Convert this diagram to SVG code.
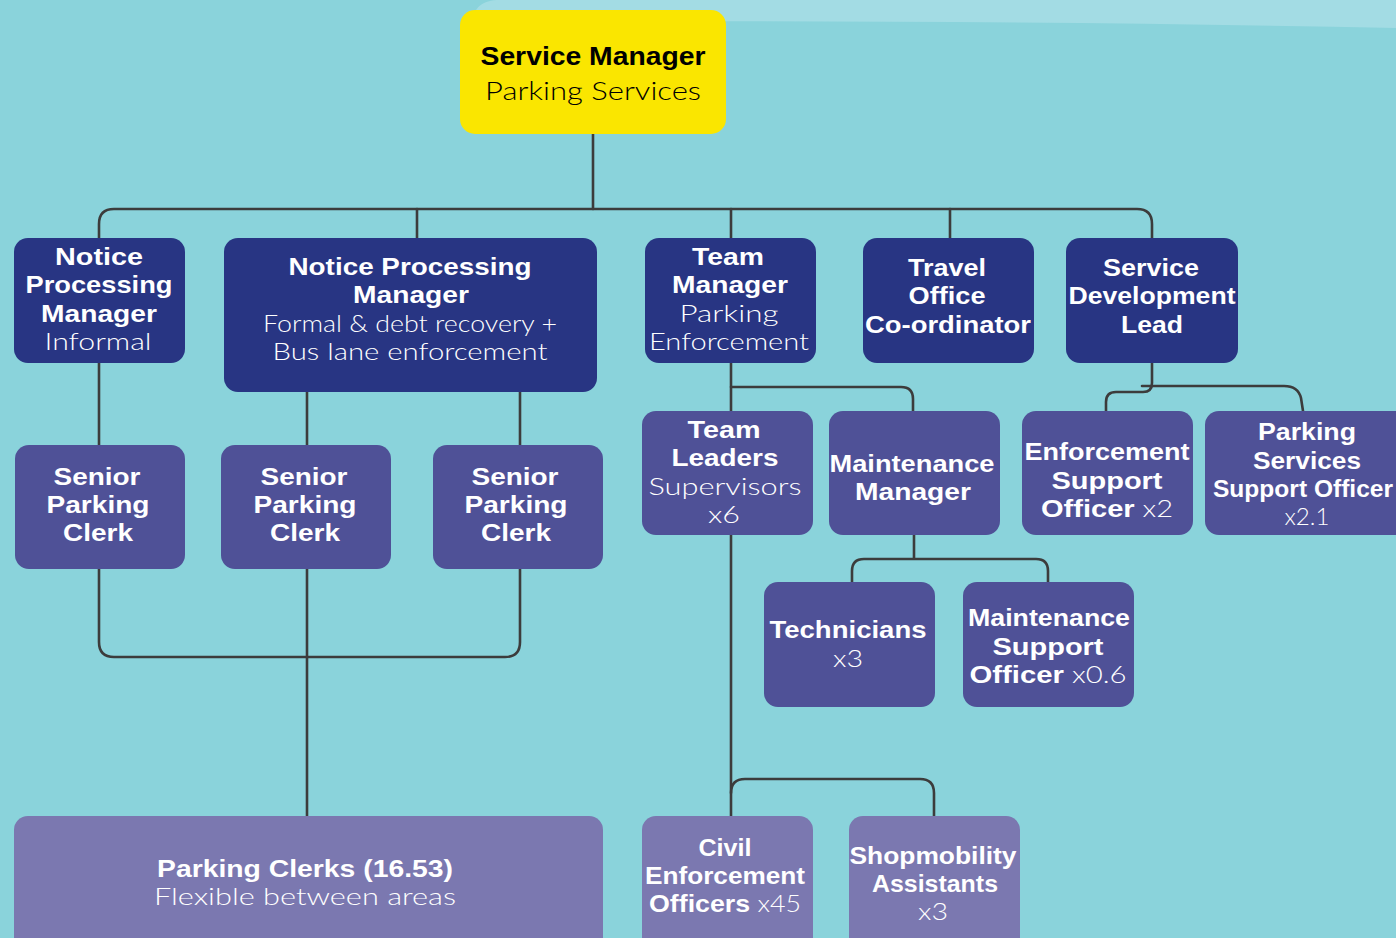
<svg xmlns="http://www.w3.org/2000/svg" width="1396" height="938" viewBox="0 0 1396 938">
<style>
.bg{fill:#8AD3DB}
.band{fill:#A3DCE4}
.n1{fill:#283583}
.n2{fill:#4F5197}
.n3{fill:#7B78B0}
.top{fill:#FAE600}
.c{fill:none;stroke:#3C3C3C;stroke-width:2.6;stroke-linecap:round;stroke-linejoin:round}
text{font-family:"Liberation Sans",Arial,sans-serif;font-size:24px;fill:#fff;text-anchor:middle}
.b{font-weight:700}
.l{font-family:Lato,"Liberation Sans",sans-serif;font-weight:300}
.k{fill:#000;font-size:26px}
</style>
<rect class="bg" x="0" y="0" width="1396" height="938"/>
<path class="band" d="M473,22 C473,8 482,0 500,0 H1396 V28 C1100,22 800,20 473,22 Z"/>
<g id="connectors">
<path class="c" d="M593,134 V209"/>
<path class="c" d="M99,238 V224 Q99,209 114,209 H1137 Q1152,209 1152,224 V238"/>
<path class="c" d="M417,209 V238 M731,209 V238 M950,209 V238"/>
<path class="c" d="M99,363 V445 M307,392 V445 M520,392 V445"/>
<path class="c" d="M99,569 V642 Q99,657 114,657 H505 Q520,657 520,642 V569"/>
<path class="c" d="M307,569 V816"/>
<path class="c" d="M731,363 V411 M731,535 V816"/>
<path class="c" d="M731,387 H901 Q913,387 913,399 V411"/>
<path class="c" d="M731,793 Q731,779 745,779 H920 Q934,779 934,793 V816"/>
<path class="c" d="M914,535 V559 M852,582 V571 Q852,559 864,559 H1036 Q1048,559 1048,571 V582"/>
<path class="c" d="M1152,363 V383 Q1152,392 1143,392 H1116 Q1106,392 1106,402 V411"/>
<path class="c" d="M1142,386 H1284 Q1298,386 1301,398 L1303,411"/>
</g>
<g id="service-manager">
<rect class="top" x="460" y="10" width="266" height="124" rx="15"/>
<text class="b k" x="593" y="65" textLength="225" lengthAdjust="spacingAndGlyphs">Service Manager</text>
<text class="l k" x="593" y="100" textLength="216" lengthAdjust="spacingAndGlyphs">Parking Services</text>
</g>
<g id="npm-informal">
<rect class="n1" x="14" y="238" width="171" height="125" rx="14"/>
<text class="b" x="99" y="265" textLength="88" lengthAdjust="spacingAndGlyphs">Notice</text>
<text class="b" x="99" y="293" textLength="147" lengthAdjust="spacingAndGlyphs">Processing</text>
<text class="b" x="99" y="322" textLength="116" lengthAdjust="spacingAndGlyphs">Manager</text>
<text class="l" x="98" y="350" textLength="107" lengthAdjust="spacingAndGlyphs">Informal</text>
</g>
<g id="npm-formal">
<rect class="n1" x="224" y="238" width="373" height="154" rx="14"/>
<text class="b" x="410" y="275" textLength="243" lengthAdjust="spacingAndGlyphs">Notice Processing</text>
<text class="b" x="411" y="303" textLength="116" lengthAdjust="spacingAndGlyphs">Manager</text>
<text class="l" x="410" y="332" textLength="294" lengthAdjust="spacingAndGlyphs">Formal &amp; debt recovery +</text>
<text class="l" x="410" y="360" textLength="275" lengthAdjust="spacingAndGlyphs">Bus lane enforcement</text>
</g>
<g id="team-manager">
<rect class="n1" x="645" y="238" width="171" height="125" rx="14"/>
<text class="b" x="728" y="265" textLength="72" lengthAdjust="spacingAndGlyphs">Team</text>
<text class="b" x="730" y="293" textLength="116" lengthAdjust="spacingAndGlyphs">Manager</text>
<text class="l" x="729" y="322" textLength="99" lengthAdjust="spacingAndGlyphs">Parking</text>
<text class="l" x="729" y="350" textLength="160" lengthAdjust="spacingAndGlyphs">Enforcement</text>
</g>
<g id="travel-office">
<rect class="n1" x="863" y="238" width="171" height="125" rx="14"/>
<text class="b" x="947" y="276" textLength="78" lengthAdjust="spacingAndGlyphs">Travel</text>
<text class="b" x="947" y="304" textLength="77" lengthAdjust="spacingAndGlyphs">Office</text>
<text class="b" x="948" y="333" textLength="166" lengthAdjust="spacingAndGlyphs">Co-ordinator</text>
</g>
<g id="service-development">
<rect class="n1" x="1066" y="238" width="172" height="125" rx="14"/>
<text class="b" x="1151" y="276" textLength="96" lengthAdjust="spacingAndGlyphs">Service</text>
<text class="b" x="1152" y="304" textLength="167" lengthAdjust="spacingAndGlyphs">Development</text>
<text class="b" x="1152" y="333" textLength="62" lengthAdjust="spacingAndGlyphs">Lead</text>
</g>
<g id="senior-clerk-1">
<rect class="n2" x="15" y="445" width="170" height="124" rx="14"/>
<text class="b" x="97" y="485" textLength="87" lengthAdjust="spacingAndGlyphs">Senior</text>
<text class="b" x="98" y="513" textLength="103" lengthAdjust="spacingAndGlyphs">Parking</text>
<text class="b" x="98" y="541" textLength="70" lengthAdjust="spacingAndGlyphs">Clerk</text>
</g>
<g id="senior-clerk-2">
<rect class="n2" x="221" y="445" width="170" height="124" rx="14"/>
<text class="b" x="304" y="485" textLength="87" lengthAdjust="spacingAndGlyphs">Senior</text>
<text class="b" x="305" y="513" textLength="103" lengthAdjust="spacingAndGlyphs">Parking</text>
<text class="b" x="305" y="541" textLength="70" lengthAdjust="spacingAndGlyphs">Clerk</text>
</g>
<g id="senior-clerk-3">
<rect class="n2" x="433" y="445" width="170" height="124" rx="14"/>
<text class="b" x="515" y="485" textLength="87" lengthAdjust="spacingAndGlyphs">Senior</text>
<text class="b" x="516" y="513" textLength="103" lengthAdjust="spacingAndGlyphs">Parking</text>
<text class="b" x="516" y="541" textLength="70" lengthAdjust="spacingAndGlyphs">Clerk</text>
</g>
<g id="team-leaders">
<rect class="n2" x="642" y="411" width="171" height="124" rx="14"/>
<text class="b" x="724" y="438" textLength="73" lengthAdjust="spacingAndGlyphs">Team</text>
<text class="b" x="725" y="466" textLength="107" lengthAdjust="spacingAndGlyphs">Leaders</text>
<text class="l" x="725" y="495" textLength="153" lengthAdjust="spacingAndGlyphs">Supervisors</text>
<text class="l" x="724" y="523" textLength="32" lengthAdjust="spacingAndGlyphs">x6</text>
</g>
<g id="maintenance-manager">
<rect class="n2" x="829" y="411" width="171" height="124" rx="14"/>
<text class="b" x="912" y="472" textLength="165" lengthAdjust="spacingAndGlyphs">Maintenance</text>
<text class="b" x="913" y="500" textLength="116" lengthAdjust="spacingAndGlyphs">Manager</text>
</g>
<g id="enforcement-support">
<rect class="n2" x="1022" y="411" width="171" height="124" rx="14"/>
<text class="b" x="1107" y="460" textLength="165" lengthAdjust="spacingAndGlyphs">Enforcement</text>
<text class="b" x="1107" y="489" textLength="111" lengthAdjust="spacingAndGlyphs">Support</text>
<text x="1107" y="517" textLength="132" lengthAdjust="spacingAndGlyphs"><tspan class="b">Officer</tspan><tspan class="l"> x2</tspan></text>
</g>
<g id="parking-services-support">
<rect class="n2" x="1205" y="411" width="210" height="124" rx="14"/>
<text class="b" x="1307" y="440" textLength="98" lengthAdjust="spacingAndGlyphs">Parking</text>
<text class="b" x="1307" y="469" textLength="108" lengthAdjust="spacingAndGlyphs">Services</text>
<text class="b" x="1303" y="497" textLength="180" lengthAdjust="spacingAndGlyphs">Support Officer</text>
<text class="l" x="1307" y="525" textLength="45" lengthAdjust="spacingAndGlyphs">x2.1</text>
</g>
<g id="technicians">
<rect class="n2" x="764" y="582" width="171" height="125" rx="14"/>
<text class="b" x="848" y="638" textLength="157" lengthAdjust="spacingAndGlyphs">Technicians</text>
<text class="l" x="848" y="667" textLength="30" lengthAdjust="spacingAndGlyphs">x3</text>
</g>
<g id="maintenance-support">
<rect class="n2" x="963" y="582" width="171" height="125" rx="14"/>
<text class="b" x="1049" y="626" textLength="162" lengthAdjust="spacingAndGlyphs">Maintenance</text>
<text class="b" x="1048" y="655" textLength="111" lengthAdjust="spacingAndGlyphs">Support</text>
<text x="1048" y="683" textLength="157" lengthAdjust="spacingAndGlyphs"><tspan class="b">Officer</tspan><tspan class="l"> x0.6</tspan></text>
</g>
<g id="parking-clerks">
<rect class="n3" x="14" y="816" width="589" height="140" rx="14"/>
<text class="b" x="305" y="877" textLength="296" lengthAdjust="spacingAndGlyphs">Parking Clerks (16.53)</text>
<text class="l" x="305" y="905" textLength="302" lengthAdjust="spacingAndGlyphs">Flexible between areas</text>
</g>
<g id="civil-enforcement">
<rect class="n3" x="642" y="816" width="171" height="140" rx="14"/>
<text class="b" x="725" y="856" textLength="53" lengthAdjust="spacingAndGlyphs">Civil</text>
<text class="b" x="725" y="884" textLength="160" lengthAdjust="spacingAndGlyphs">Enforcement</text>
<text x="725" y="912" textLength="152" lengthAdjust="spacingAndGlyphs"><tspan class="b">Officers</tspan><tspan class="l"> x45</tspan></text>
</g>
<g id="shopmobility">
<rect class="n3" x="849" y="816" width="171" height="140" rx="14"/>
<text class="b" x="933" y="864" textLength="167" lengthAdjust="spacingAndGlyphs">Shopmobility</text>
<text class="b" x="935" y="892" textLength="126" lengthAdjust="spacingAndGlyphs">Assistants</text>
<text class="l" x="933" y="920" textLength="30" lengthAdjust="spacingAndGlyphs">x3</text>
</g>
</svg>
